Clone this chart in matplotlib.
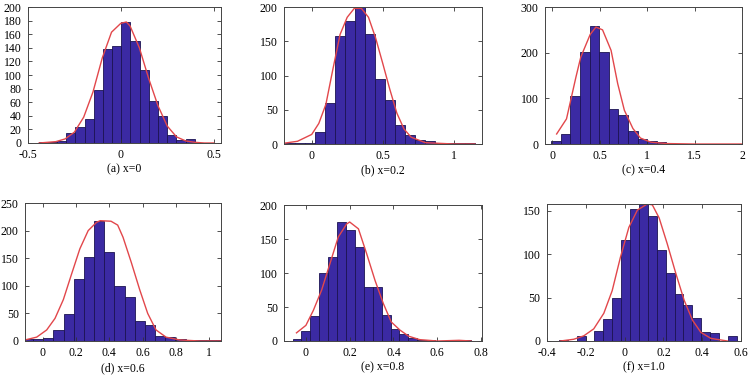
import matplotlib
matplotlib.use("Agg")
import matplotlib.pyplot as plt

plt.rcParams['font.family'] = ['Liberation Serif', 'DejaVu Serif']
plt.rcParams['axes.unicode_minus'] = False

# histogram data: first bin edge, bin width, counts
a_start, a_width = -0.443, 0.0495
a_counts = [2, 1, 3, 15, 23, 36, 78, 138, 143, 178, 150, 107, 62, 39, 12, 5, 6]
b_start, b_width = -0.188, 0.0706
b_counts = [1, 1, 2, 17, 60, 157, 180, 200, 160, 95, 64, 28, 13, 6, 4, 1, 2, 1, 1]
c_start, c_width = -0.01, 0.101
c_counts = [6, 23, 105, 202, 258, 202, 77, 63, 28, 11, 6, 4, 1]
d_start, d_width = -0.119, 0.061
d_counts = [3, 3, 5, 20, 49, 113, 153, 218, 162, 99, 80, 36, 29, 9, 7, 3, 2, 1, 1, 2]
e_start, e_width = -0.061, 0.0407
e_counts = [3, 15, 37, 100, 123, 175, 163, 138, 80, 80, 38, 17, 10, 4, 2, 1, 0, 0, 1, 2]
f_start, f_width = -0.339, 0.0459
f_counts = [1, 0, 6, 0, 11, 25, 50, 117, 152, 158, 144, 105, 78, 54, 42, 26, 10, 9, 0, 6]

# fitted curves
a_cx = [-0.44, -0.35, -0.30, -0.25, -0.20, -0.15, -0.10, -0.05, 0.0, 0.03, 0.05, 0.10, 0.15, 0.20, 0.25, 0.30, 0.35, 0.40, 0.45, 0.50]
a_cy = [0, 2, 6, 16, 38, 75, 125, 163, 176, 178, 172, 140, 95, 55, 25, 9, 3, 1, 0, 0]
b_cx = [-0.2, -0.1, 0.0, 0.05, 0.1, 0.15, 0.2, 0.25, 0.3, 0.35, 0.4, 0.45, 0.5, 0.55, 0.6, 0.65, 0.7, 0.8, 0.9, 1.0, 1.15]
b_cy = [1, 4, 14, 30, 58, 110, 160, 185, 198, 198, 185, 155, 118, 80, 45, 22, 10, 2, 1, 0, 0]
c_cx = [0.046, 0.15, 0.25, 0.30, 0.40, 0.46, 0.53, 0.62, 0.69, 0.76, 0.85, 0.93, 1.04, 1.21, 1.5, 2.0]
c_cy = [22, 55, 147, 190, 240, 256, 250, 205, 132, 74, 34, 13, 4, 1, 0, 0]
d_cx = [-0.105, -0.036, 0.024, 0.074, 0.124, 0.173, 0.223, 0.273, 0.323, 0.345, 0.41, 0.45, 0.482, 0.532, 0.582, 0.63, 0.68, 0.74, 0.82, 0.94, 1.07]
d_cy = [2, 7, 20, 41, 75, 121, 167, 200, 215, 218, 217, 210, 188, 142, 93, 50, 20, 7, 2, 0, 0]
e_cx = [-0.043, 0.0, 0.034, 0.072, 0.11, 0.148, 0.186, 0.2, 0.24, 0.278, 0.316, 0.354, 0.39, 0.43, 0.47, 0.52, 0.6, 0.7, 0.755]
e_cy = [12, 23, 45, 75, 114, 153, 172, 175, 165, 128, 89, 55, 28, 16, 7, 2, 0, 1, 0]
f_cx = [-0.331, -0.262, -0.21, -0.159, -0.107, -0.064, -0.021, 0.022, 0.066, 0.117, 0.143, 0.178, 0.22, 0.264, 0.307, 0.35, 0.393, 0.445, 0.53]
f_cy = [0, 2, 6, 14, 32, 58, 97, 131, 151, 158, 157, 142, 112, 78, 47, 24, 10, 3, 0]

captions = ["(a) x=0", "(b) x=0.2", "(c) x=0.4", "(d) x=0.6", "(e) x=0.8", "(f) x=1.0"]

xticks = [[-0.5, 0, 0.5], [0, 0.5, 1], [0, 0.5, 1, 1.5, 2],
          [0, 0.2, 0.4, 0.6, 0.8, 1], [0, 0.2, 0.4, 0.6, 0.8], [-0.4, -0.2, 0, 0.2, 0.4, 0.6]]
xticklabels = [["-0.5", "0", "0.5"], ["0", "0.5", "1"], ["0", "0.5", "1", "1.5", "2"],
               ["0", "0.2", "0.4", "0.6", "0.8", "1"], ["0", "0.2", "0.4", "0.6", "0.8"],
               ["-0.4", "-0.2", "0", "0.2", "0.4", "0.6"]]
yticks = [list(range(0, 201, 20)), list(range(0, 201, 50)), list(range(0, 301, 100)),
          list(range(0, 251, 50)), list(range(0, 201, 50)), list(range(0, 151, 50))]
xlims = [(-0.5, 0.54), (-0.195, 1.2), (-0.077, 2.0), (-0.106, 1.07), (-0.1, 0.805), (-0.4, 0.6)]
ylims = [(0, 200), (0, 200), (0, 300), (0, 250), (0, 200), (0, 158)]

hists = [(a_start, a_width, a_counts), (b_start, b_width, b_counts), (c_start, c_width, c_counts),
         (d_start, d_width, d_counts), (e_start, e_width, e_counts), (f_start, f_width, f_counts)]
curves = [(a_cx, a_cy), (b_cx, b_cy), (c_cx, c_cy), (d_cx, d_cy), (e_cx, e_cy), (f_cx, f_cy)]

# axes boxes in figure fractions
rects = [[0.0374, 0.6207, 0.2577, 0.3607],
         [0.3792, 0.6180, 0.2644, 0.3634],
         [0.7276, 0.6180, 0.2630, 0.3634],
         [0.0334, 0.0955, 0.2617, 0.3660],
         [0.3792, 0.0955, 0.2644, 0.3607],
         [0.7303, 0.0955, 0.2590, 0.3634]]

fig = plt.figure(figsize=(7.49, 3.77), dpi=100)

for i in range(6):
    ax = fig.add_axes(rects[i])
    start, w, counts = hists[i]
    edges = [start + k * w for k in range(len(counts))]
    ax.bar(edges, counts, width=w, align='edge', color='#3b2aa3',
           edgecolor='#1c1352', linewidth=0.6)
    ax.plot(curves[i][0], curves[i][1], color='#e2474b', lw=1.0)
    ax.set_xlim(*xlims[i])
    ax.set_ylim(*ylims[i])
    ax.set_xticks(xticks[i])
    ax.set_xticklabels(xticklabels[i])
    ax.set_yticks(yticks[i])
    ax.tick_params(direction='in', top=True, right=True, length=3, width=0.6,
                   labelsize=8.5, color='#333333')
    ax.tick_params(axis='x', pad=4.5)
    ax.tick_params(axis='y', pad=4.5)
    for s in ax.spines.values():
        s.set_linewidth(0.7)
        s.set_color('#444444')
    ax.text(0.5, -0.195, captions[i], transform=ax.transAxes, ha='center',
            va='center', fontsize=8.5)

plt.savefig('out.png', dpi=100)
